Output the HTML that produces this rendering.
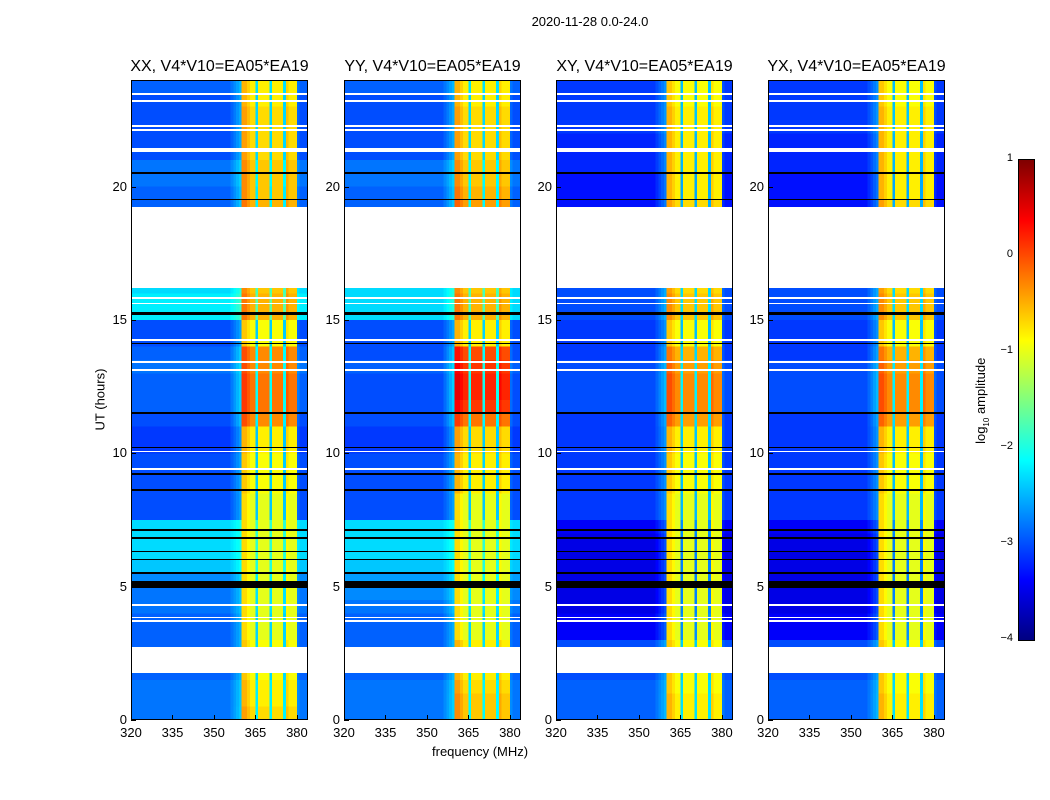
<!DOCTYPE html>
<html><head><meta charset="utf-8"><style>
body{margin:0;background:#fff;width:1050px;height:800px;position:relative;font-family:"Liberation Sans",sans-serif;overflow:hidden}
.t{position:absolute;white-space:nowrap;color:#000}
canvas{position:absolute;image-rendering:pixelated}
.frame{position:absolute;border:1px solid #000;box-sizing:border-box}
</style></head><body>
<div class="t" style="left:0;width:1180px;text-align:center;top:14px;font-size:13px">2020-11-28 0.0-24.0</div>
<div class="t" style="left:40px;top:392px;font-size:13px;transform:rotate(-90deg);transform-origin:center;width:120px;text-align:center">UT (hours)</div>
<div class="t" style="left:432px;top:744px;font-size:13px">frequency (MHz)</div>
<div id="root"></div>
<canvas id="cb" width="1" height="480" style="left:1019px;top:160px;width:15px;height:480px"></canvas>
<div class="frame" style="left:1018px;top:159px;width:17px;height:482px"></div>
<div class="t" style="left:922px;top:392px;font-size:13px;transform:rotate(-90deg);width:120px;text-align:center">log<sub style="font-size:8px">10</sub> amplitude</div>
<script>
const panelNames=["XX, V4*V10=EA05*EA19","YY, V4*V10=EA05*EA19","XY, V4*V10=EA05*EA19","YX, V4*V10=EA05*EA19"];
const panelLefts=[131,344,556,768];
const xTicks=[320,335,350,365,380];
const yTicks=[0,5,10,15,20];
const cbTicks=[1,0,-1,-2,-3,-4];
// background level per half hour (48 rows) per panel
const bgXX=[-2.8,-2.8,-2.8,-2.9,-2.9,-2.9,-2.9,-2.9,-2.8,-2.8,-2.7,-2.4,-2.3,-2.3,-2.3,-3.0,-3.0,-3.0,-3.0,-3.0,-3.1,-3.1,-3.0,-2.9,-2.9,-2.9,-2.8,-2.9,-3.0,-3.0,-2.2,-2.2,-2.3,-2.3,-2.3,-2.3,-2.3,-2.3,-2.9,-2.9,-2.8,-2.8,-3.0,-3.0,-3.0,-3.0,-3.0,-2.9];
const bgYY=[-2.8,-2.8,-2.8,-2.9,-2.9,-2.9,-2.9,-2.9,-2.8,-2.7,-2.6,-2.4,-2.3,-2.3,-2.3,-3.0,-3.0,-3.0,-3.0,-3.0,-3.1,-3.1,-3.0,-3.0,-3.0,-3.0,-2.9,-3.0,-3.0,-3.0,-2.3,-2.3,-2.3,-2.3,-2.3,-2.3,-2.3,-2.3,-2.9,-2.9,-2.8,-2.8,-3.0,-3.0,-3.0,-3.0,-3.0,-2.9];
const bgXY=[-2.9,-2.9,-2.9,-3.0,-3.0,-3.0,-3.4,-3.4,-3.5,-3.5,-3.5,-3.5,-3.5,-3.5,-3.4,-3.1,-3.1,-3.1,-3.1,-3.1,-3.1,-3.1,-3.1,-3.0,-3.0,-3.0,-3.0,-3.1,-3.1,-3.1,-3.0,-3.0,-3.0,-3.0,-3.0,-3.0,-3.0,-3.0,-3.3,-3.3,-3.3,-3.2,-3.2,-3.2,-3.1,-3.1,-3.1,-3.1];
const bgYX=[-2.9,-2.9,-2.9,-3.0,-3.0,-3.0,-3.4,-3.4,-3.5,-3.5,-3.5,-3.5,-3.5,-3.5,-3.4,-3.1,-3.1,-3.1,-3.1,-3.1,-3.1,-3.1,-3.1,-3.0,-3.0,-3.0,-3.0,-3.1,-3.1,-3.1,-3.0,-3.0,-3.0,-3.0,-3.0,-3.0,-3.0,-3.0,-3.3,-3.3,-3.3,-3.2,-3.2,-3.2,-3.1,-3.1,-3.1,-3.1];
// band level per half hour (48 rows) per panel
const bandXX=[-0.7,-0.8,-0.8,-0.9,-0.9,-0.9,-1.0,-1.0,-1.0,-1.0,-1.0,-1.0,-1.0,-1.0,-1.0,-1.0,-1.0,-0.9,-0.9,-0.9,-0.8,-0.8,-0.3,-0.2,-0.2,-0.2,-0.3,-0.3,-0.9,-0.9,-0.5,-0.5,-0.6,-0.6,-0.6,-0.6,-0.6,-0.6,-0.5,-0.6,-0.6,-0.6,-0.7,-0.7,-0.7,-0.7,-0.8,-0.8];
const bandYY=[-0.6,-0.6,-0.7,-0.8,-0.8,-0.8,-1.0,-1.0,-1.0,-1.0,-1.0,-1.0,-1.0,-1.0,-1.0,-1.0,-1.0,-0.8,-0.8,-0.8,-0.7,-0.7,-0.2,0.1,0.2,0.2,0.1,0.0,-0.8,-0.8,-0.5,-0.5,-0.6,-0.6,-0.6,-0.6,-0.6,-0.6,-0.4,-0.5,-0.6,-0.6,-0.7,-0.7,-0.7,-0.7,-0.8,-0.8];
const bandXY=[-0.8,-0.8,-0.9,-0.9,-0.9,-0.9,-1.0,-1.0,-1.0,-1.0,-1.0,-1.0,-1.0,-1.0,-1.0,-1.0,-1.0,-0.9,-0.9,-0.9,-0.8,-0.8,-0.4,-0.3,-0.3,-0.3,-0.4,-0.5,-0.9,-0.9,-0.6,-0.6,-0.7,-0.7,-0.7,-0.7,-0.7,-0.7,-0.7,-0.8,-0.8,-0.8,-0.8,-0.8,-0.8,-0.8,-0.9,-0.9];
const bandYX=bandXY;
const bgs=[bgXX,bgYY,bgXY,bgYX], bands=[bandXX,bandYY,bandXY,bandYX];
// channel weight per MHz 320..383 (0=background,1=band)
const chanShape=[0,0,0,0,0,0,0,0,0,0,0,0,0,0,0,0,0,0,0,0,0,0,0,0,0,0,0,0,0,0,0,0,0,0,0,0,0.05,0.1,0.15,0.2,1.1,1.1,1.05,1.0,1.0,0.3,1.0,1.0,1.0,1.0,0.3,1.0,1.0,1.0,1.0,0.3,1.05,1.0,1.0,1.0,0.05,0,0,0];
const gaps=[[1.75,2.75],[16.2,19.25]];
const blackLines=[[4.95,5.2],[5.5,5.55],[6.0,6.05],[6.3,6.35],[6.8,6.85],[7.1,7.15],[8.6,8.65],[9.2,9.25],[10.2,10.25],[11.5,11.55],[14.1,14.15],[15.2,15.3],[19.5,19.55],[20.5,20.55]];
const whiteLines=[[3.7,3.75],[3.82,3.87],[4.3,4.35],[9.4,9.45],[10.05,10.1],[13.1,13.15],[13.4,13.45],[14.22,14.27],[15.6,15.65],[15.8,15.85],[21.3,21.45],[22.1,22.15],[22.25,22.3],[23.2,23.25],[23.45,23.5]];
const X0=320,X1=384,T1=24,PW=177,PT=80,PH=640;
const xs=(f,l)=>l+(f-X0)/(X1-X0)*PW;
const ys=h=>PT+PH-(h/T1)*PH;
function jet(v){let t=(v+4)/5;t=Math.max(0,Math.min(1,t));
 const c=x=>Math.max(0,Math.min(1,x));
 return [c(1.5-Math.abs(4*t-3)),c(1.5-Math.abs(4*t-2)),c(1.5-Math.abs(4*t-1))].map(x=>Math.round(x*255));}
const root=document.getElementById('root');
function add(tag,css,txt,name){const e=document.createElement(tag);e.style.cssText=css;if(txt!==undefined)e.textContent=txt;
 
 
 root.appendChild(e);return e;}
panelNames.forEach((nm,p)=>{
 const L=panelLefts[p];
 const cv=document.createElement('canvas');
 
 
 cv.width=chanShape.length;cv.height=96;
 cv.style.cssText=`left:${L}px;top:${PT}px;width:${PW}px;height:${PH}px`;
 root.appendChild(cv);
 const ctx=cv.getContext('2d');const img=ctx.createImageData(cv.width,96);
 for(let r=0;r<96;r++){const h=(95-r+0.5)/4;const hi=Math.min(47,Math.floor(h*2));
  for(let c=0;c<chanShape.length;c++){const w=chanShape[c];
   const v=bgs[p][hi]*(1-Math.min(1,w))+bands[p][hi]*Math.min(1,w)+(w>1?(w-1)*3:0);
   const col=jet(v);const i=(r*cv.width+c)*4;img.data[i]=col[0];img.data[i+1]=col[1];img.data[i+2]=col[2];img.data[i+3]=255;}}
 ctx.putImageData(img,0,0);
 const ov=(arr,color,name)=>arr.forEach(g=>{const y0=ys(g[1]),y1=ys(g[0]);
  add('div',`position:absolute;left:${L}px;top:${y0}px;width:${PW}px;height:${Math.max(1.5,y1-y0)}px;background:${color}`,undefined,name);});
 ov(blackLines,'#000','flag-line');ov(whiteLines,'#fff','flag-line-white');ov(gaps,'#fff','data-gap');
 add('div',`position:absolute;left:${L}px;top:${PT}px;width:${PW}px;height:${PH}px;border:1px solid #000;box-sizing:border-box`,undefined,'panel-frame');
 add('div',`position:absolute;left:${L-30}px;width:${PW+60}px;text-align:center;top:58px;font-size:16px;white-space:nowrap`,nm,'panel-title');
 xTicks.forEach(f=>{const x=xs(f,L);
  add('div',`position:absolute;left:${x-20}px;width:40px;text-align:center;top:725px;font-size:13px`,String(f),'x-tick-label');
  add('div',`position:absolute;left:${x}px;top:${PT+PH-5}px;width:1px;height:5px;background:#000`,undefined,'x-tick');});
 yTicks.forEach(h=>{const y=ys(h);
  add('div',`position:absolute;left:${L-30}px;width:26px;text-align:right;top:${y-8}px;font-size:13px`,String(h),'y-tick-label');
  add('div',`position:absolute;left:${L}px;top:${y}px;width:5px;height:1px;background:#000`,undefined,'y-tick');});
});
const cb=document.getElementById('cb').getContext('2d');
for(let i=0;i<480;i++){const col=jet(1-i/480*5);cb.fillStyle=`rgb(${col})`;cb.fillRect(0,i,1,1);}
cbTicks.forEach(v=>{const y=160+(1-v)/5*480;
 add('div',`position:absolute;left:985px;width:28px;text-align:right;top:${y-8}px;font-size:11px`,v<0?'\u2212'+(-v):String(v),'colorbar-tick-label');
 add('div',`position:absolute;left:1030px;top:${y}px;width:4px;height:1px;background:#000`,undefined,'colorbar-tick');});
</script>
</body></html>
